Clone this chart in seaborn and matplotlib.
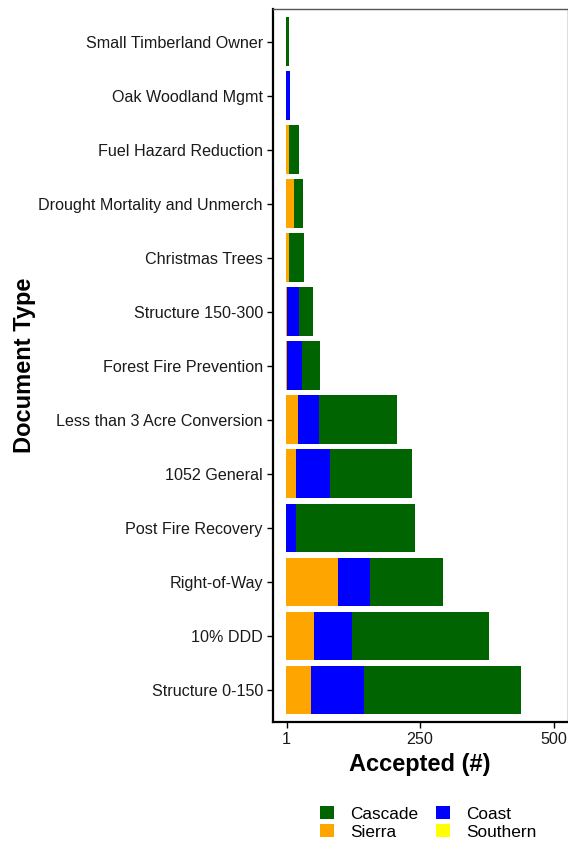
import matplotlib
matplotlib.use("Agg")
import matplotlib.pyplot as plt
from matplotlib.patches import Patch
import seaborn as sns
import pandas as pd
import numpy as np

# ---- data (top to bottom as displayed) ----
doc_types = [
    "Small Timberland Owner",
    "Oak Woodland Mgmt",
    "Fuel Hazard Reduction",
    "Drought Mortality and Unmerch",
    "Christmas Trees",
    "Structure 150-300",
    "Forest Fire Prevention",
    "Less than 3 Acre Conversion",
    "1052 General",
    "Post Fire Recovery",
    "Right-of-Way",
    "10% DDD",
    "Structure 0-150",
]
southern = [0, 0, 0, 0, 0, 0, 0, 0, 0, 0, 0, 0, 0]
sierra   = [0, 0, 6, 14, 6, 1, 1, 22, 19, 0, 97, 53, 47]
coast    = [0, 7, 0, 0, 0, 24, 29, 40, 62, 19, 60, 70, 98]
cascade  = [5, 0, 18, 18, 27, 25, 33, 145, 153, 221, 135, 255, 292]

regions = ["Cascade", "Coast", "Sierra", "Southern"]
colors = {"Cascade": "#006400", "Coast": "#0000FF", "Sierra": "#FFA500", "Southern": "#FFFF00"}
x_ticks = [1, 250, 500]

df = pd.DataFrame({
    "Type": doc_types,
    "Southern": southern,
    "Sierra": sierra,
    "Coast": coast,
    "Cascade": cascade,
})
# cumulative stacks (Southern nearest zero, Cascade farthest)
df["c_Southern"] = df["Southern"]
df["c_Sierra"] = df["c_Southern"] + df["Sierra"]
df["c_Coast"] = df["c_Sierra"] + df["Coast"]
df["c_Cascade"] = df["c_Coast"] + df["Cascade"]

sns.set_theme(style="white")
plt.rcParams["font.family"] = ["Liberation Sans", "DejaVu Sans"]

fig = plt.figure(figsize=(5.68, 8.42), dpi=100)
ax = fig.add_axes([0.480, 0.1422, 0.5195, 0.8468])

for reg in ["Cascade", "Coast", "Sierra", "Southern"]:
    sns.barplot(data=df, x="c_" + reg, y="Type", order=doc_types, orient="h",
                color=colors[reg], saturation=1, width=0.9, errorbar=None,
                linewidth=0, ax=ax)

ax.set_xlim(-25, 525)
ax.set_ylim(len(doc_types) - 0.4, -0.6)
ax.set_xticks(x_ticks)
ax.set_xticklabels([str(t) for t in x_ticks])
ax.set_xlabel("Accepted (#)", fontsize=17, fontweight="bold", labelpad=4, color="black")
ax.set_ylabel("Document Type", fontsize=17, fontweight="bold", labelpad=2, color="black")
ax.tick_params(axis="both", labelsize=11.6, colors="black", length=4, width=1,
               direction="out", left=True, bottom=True, pad=3)
for lab in ax.get_xticklabels() + ax.get_yticklabels():
    lab.set_color("#1a1a1a")

for s in ["left", "bottom"]:
    ax.spines[s].set_color("black")
    ax.spines[s].set_linewidth(1.6)
for s in ["top", "right"]:
    ax.spines[s].set_color("#555555")
    ax.spines[s].set_linewidth(1.0)

handles = [Patch(facecolor=colors[r], edgecolor="none") for r in ["Cascade", "Sierra", "Coast", "Southern"]]
labels = ["Cascade", "Sierra", "Coast", "Southern"]
leg = fig.legend(handles, labels, loc="center", bbox_to_anchor=(0.754, 0.0226), ncol=2,
                 frameon=False, fontsize=12.4, handlelength=0.82, handleheight=0.75,
                 handletextpad=0.95, columnspacing=1.0, labelspacing=0.15, borderpad=0)
for t in leg.get_texts():
    t.set_color("black")

fig.savefig("out.png", dpi=100)
